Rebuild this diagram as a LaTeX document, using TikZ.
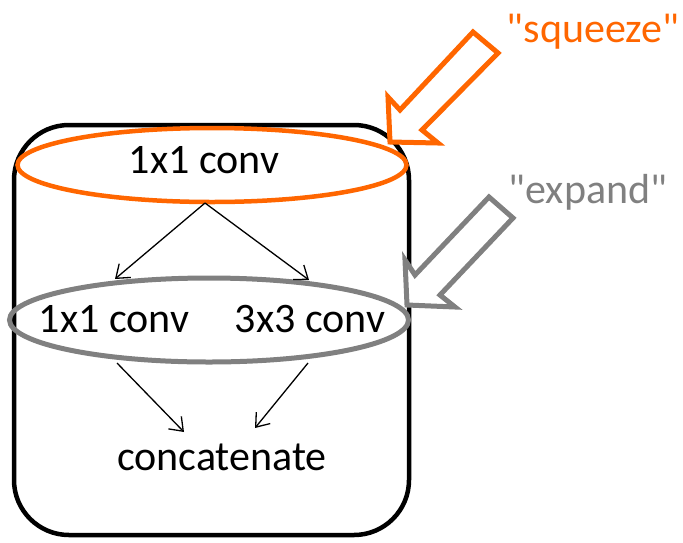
\documentclass[tikz,border=0pt]{standalone}
\usepackage{fontspec}
\setmainfont{Carlito}[Ligatures=TeXOff]
\usetikzlibrary{arrows.meta,shapes.geometric}
\definecolor{sqorange}{RGB}{255,102,0}
\definecolor{exgray}{RGB}{128,128,128}
\tikzset{
  lbl/.style={anchor=base,inner sep=0pt,font=\fontsize{42}{50}\selectfont},
  flow/.style={line width=1.3pt,-{Straight Barb[length=12pt,width=18pt,line width=1.3pt]}},
  hollow/.style={line width=5pt,line join=miter,fill=white},
}
\begin{document}
\begin{tikzpicture}[x=1pt,y=-1pt]
  \useasboundingbox (0,0) rectangle (683,542);

  % fire module outline
  \draw[line width=4.5pt,rounded corners=55pt] (14,125) rectangle (409,535);

  % squeeze and expand layers
  \node[ellipse,draw=sqorange,line width=4.5pt,minimum width=389pt,minimum height=74pt,inner sep=0pt] (sq) at (212,165) {};
  \node[ellipse,draw=exgray,line width=5pt,minimum width=399pt,minimum height=84pt,inner sep=0pt] (ex) at (209,320) {};

  % layer labels
  \node[lbl] (c1) at (204,173) {1x1 conv};
  \node[lbl] (e1) at (114,332) {1x1 conv};
  \node[lbl] (e3) at (310,332) {3x3 conv};
  \node[lbl] (cat) at (222,470) {concatenate};

  % connector end points
  \coordinate (sqout) at (205,203);
  \coordinate (e1in) at (115,279);
  \coordinate (e3in) at (309,280);
  \coordinate (e1out) at (117,363);
  \coordinate (e3out) at (308,363);
  \coordinate (catl) at (184,432);
  \coordinate (catr) at (255,428);

  \draw[flow] (sqout) -- (e1in);
  \draw[flow] (sqout) -- (e3in);
  \draw[flow] (e1out) -- (catl);
  \draw[flow] (e3out) -- (catr);

  % hollow pointer arrows
  \draw[hollow,draw=sqorange] (473,32) -- (498,53) -- (422,130) -- (438,143)
        -- (390,142) -- (388,97) -- (400,110) -- cycle;
  \draw[hollow,draw=exgray] (489,197) -- (513,218) -- (440,295) -- (455,307)
        -- (407,305) -- (405,260) -- (415,275) -- cycle;

  % annotations
  \node[lbl,text=sqorange] (sqlbl) at (593,42) {"squeeze"};
  \node[lbl,text=exgray] (exlbl) at (588,203) {"expand"};
\end{tikzpicture}
\end{document}
